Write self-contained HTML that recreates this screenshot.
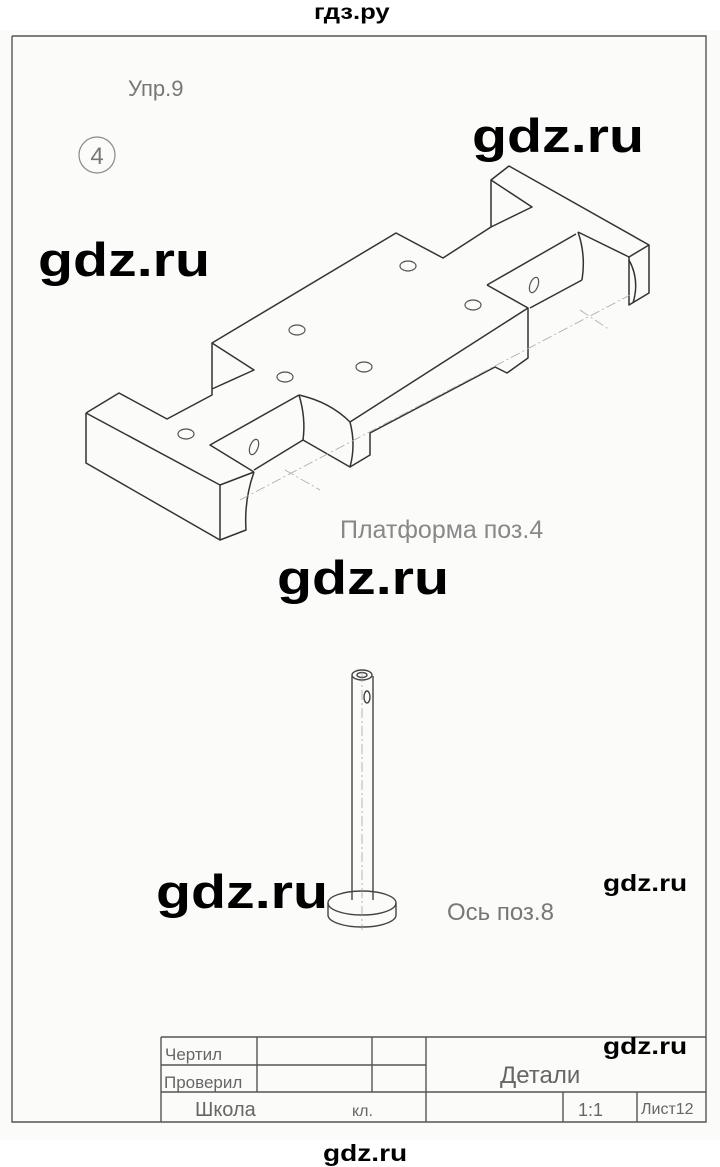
<!DOCTYPE html>
<html><head><meta charset="utf-8"><style>
html,body{margin:0;padding:0;background:#fff;}
body{width:720px;height:1167px;overflow:hidden;position:relative;font-family:"Liberation Sans",sans-serif;}
svg{position:absolute;left:0;top:0;}
.wm{position:absolute;font-family:"Liberation Sans","DejaVu Sans",sans-serif;font-weight:bold;color:#000;white-space:nowrap;line-height:1;transform:scaleX(1.22);transform-origin:0 0;}
</style></head><body>
<svg width="720" height="1167" viewBox="0 0 720 1167">
  <rect x="0" y="30" width="720" height="1110" fill="#fbfbfa"/>
  <g fill="none" stroke="#555" stroke-width="1.4">
    <polyline points="12,36 706,36 706,1122 12,1122 12,36"/>
  </g>
  <text x="128" y="96" font-family="Liberation Sans, DejaVu Sans, sans-serif" font-size="22" fill="#777">Упр.9</text>
  <circle cx="97" cy="155" r="18" fill="none" stroke="#888" stroke-width="1.2"/>
  <text x="97" y="164" text-anchor="middle" font-size="24" fill="#777" font-family="Liberation Sans, sans-serif">4</text>

  <g fill="none" stroke="#333" stroke-width="1.5" stroke-linejoin="round">
    <polyline points="86,413 119,393 167,419 212,395 212,343 396,233 443,258 491,227 491,180 509,166 649,245 629,257 578,232"/>
    <polyline points="212,343 254,370 212,389"/>
    <polyline points="491,180 532,207 491,227"/>
    <polyline points="629,257 629,305 649,293 649,245"/>
    <path d="M578,232 Q586,255 582,280"/>
    <polyline points="487,285 576,234"/>
    <polyline points="487,285 528,308 350,422"/>
    <polyline points="582,280 530,308"/>
    <path d="M350,422 Q330,402 299,395"/>
    <polyline points="299,395 210,445 254,472"/>
    <path d="M299,395 Q306,418 303,440"/>
    <polyline points="303,440 254,470"/>
    <polyline points="303,440 350,467 370,455 370,433 495,367 507,373 528,358 528,308"/>
    <path d="M350,422 Q356,445 350,467"/>
    <polyline points="86,413 220,485 254,472"/>
    <polyline points="86,413 86,463 220,540 220,485"/>
    <path d="M254,472 Q244,500 246,530 L220,540"/>
    <path d="M629,260 Q640,280 633,303"/>
  </g>
  <g fill="none" stroke="#555" stroke-width="1.2">
    <ellipse cx="408" cy="266" rx="8" ry="5"/>
    <ellipse cx="473" cy="305" rx="8" ry="5"/>
    <ellipse cx="297" cy="330" rx="8" ry="5"/>
    <ellipse cx="285" cy="377" rx="8" ry="5"/>
    <ellipse cx="364" cy="367" rx="8" ry="5"/>
    <ellipse cx="186" cy="434" rx="8" ry="5"/>
    <ellipse cx="534" cy="285" rx="4" ry="8" transform="rotate(20 534 285)"/>
    <ellipse cx="254" cy="447" rx="4" ry="8" transform="rotate(20 254 447)"/>
  </g>
  <g fill="none" stroke="#aaa" stroke-width="0.8" stroke-dasharray="10,3,2,3">
    <line x1="240" y1="500" x2="630" y2="295"/>
    <line x1="285" y1="470" x2="320" y2="490"/>
    <line x1="580" y1="310" x2="610" y2="330"/>
  </g>
  <text x="340" y="538" font-size="25" fill="#888" font-family="Liberation Sans, DejaVu Sans, sans-serif">Платформа  поз.4</text>

  <g fill="none" stroke="#444" stroke-width="1.4">
    <line x1="352" y1="676" x2="352" y2="900"/>
    <line x1="373" y1="676" x2="373" y2="900"/>
    <ellipse cx="362" cy="675" rx="10" ry="5"/>
    <ellipse cx="362" cy="675" rx="5" ry="2.5"/>
    <ellipse cx="367" cy="697" rx="3" ry="6"/>
    <path d="M328,903 A34,12 0 0 1 396,903"/>
    <path d="M328,903 A34,12 0 0 0 396,903"/>
    <path d="M328,903 L328,915 A34,12 0 0 0 396,915 L396,903"/>
    <line x1="362" y1="672" x2="362" y2="930" stroke="#999" stroke-width="0.7" stroke-dasharray="10,3,2,3"/>
  </g>
  <text x="447" y="920" font-size="24" fill="#777" font-family="Liberation Sans, DejaVu Sans, sans-serif">Ось поз.8</text>

  <g fill="none" stroke="#555" stroke-width="1.4">
    <line x1="161" y1="1037" x2="706" y2="1037"/>
    <line x1="161" y1="1037" x2="161" y2="1122"/>
    <line x1="161" y1="1065" x2="426" y2="1065"/>
    <line x1="161" y1="1092" x2="706" y2="1092"/>
    <line x1="257" y1="1037" x2="257" y2="1092"/>
    <line x1="372" y1="1037" x2="372" y2="1092"/>
    <line x1="426" y1="1037" x2="426" y2="1122"/>
    <line x1="563" y1="1092" x2="563" y2="1122"/>
    <line x1="637" y1="1092" x2="637" y2="1122"/>
  </g>
  <g fill="#666" font-family="Liberation Sans, DejaVu Sans, sans-serif">
    <text x="165" y="1060" font-size="17">Чертил</text>
    <text x="164" y="1088" font-size="17">Проверил</text>
    <text x="195" y="1116" font-size="20">Школа</text>
    <text x="352" y="1116" font-size="16">кл.</text>
    <text x="500" y="1083" font-size="24">Детали</text>
    <text x="578" y="1116" font-size="18">1:1</text>
    <text x="641" y="1114" font-size="16">Лист12</text>
  </g>
</svg>
<div class="wm" style="left:314px;top:2px;font-size:21px;">гдз.ру</div>
<div class="wm" style="left:472px;top:112px;font-size:47px;">gdz.ru</div>
<div class="wm" style="left:38px;top:236px;font-size:47px;">gdz.ru</div>
<div class="wm" style="left:277px;top:554px;font-size:47px;">gdz.ru</div>
<div class="wm" style="left:156px;top:868px;font-size:47px;">gdz.ru</div>
<div class="wm" style="left:603px;top:872px;font-size:23px;">gdz.ru</div>
<div class="wm" style="left:603px;top:1035px;font-size:23px;">gdz.ru</div>
<div class="wm" style="left:323px;top:1142px;font-size:23px;">gdz.ru</div>
</body></html>
